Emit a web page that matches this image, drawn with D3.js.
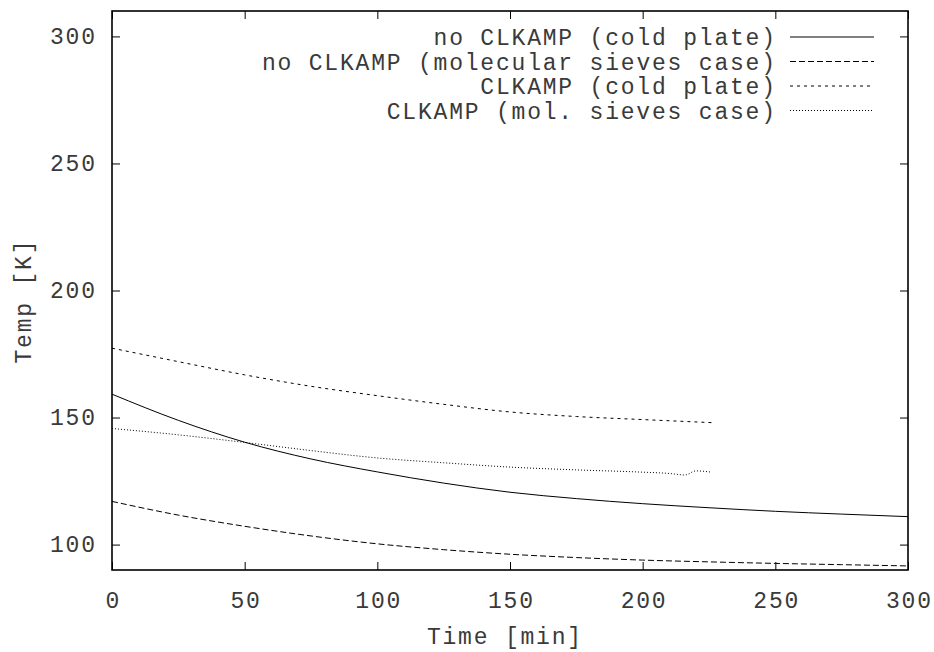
<!DOCTYPE html>
<html>
<head>
<meta charset="utf-8">
<script src="https://cdn.jsdelivr.net/npm/d3@7"></script>
<style>
html,body{margin:0;padding:0;background:#fff;}
svg text{font-family:"Liberation Mono","DejaVu Sans Mono",monospace;fill:#3a3a3a;letter-spacing:1.8px;}
</style>
</head>
<body>
<svg id="chart" width="934" height="652"></svg>
<script>
// ---- data ----
const seriesNames = [
  "no CLKAMP (cold plate)",
  "no CLKAMP (molecular sieves case)",
  "CLKAMP (cold plate)",
  "CLKAMP (mol. sieves case)"
];
const tNoClkCold = [0,25,50,75,100,125,150,175,200,225,250,275,300];
const vNoClkCold = [159.2,148.9,140.3,133.7,128.6,124.2,120.6,118.1,116.1,114.5,113.1,112.0,111.0];
const tNoClkSieve = [0,25,50,75,100,125,150,175,200,225,250,275,300];
const vNoClkSieve = [117.0,111.6,107.2,103.4,100.3,98.0,96.2,94.9,93.9,93.2,92.6,92.1,91.6];
const tClkCold = [0,25,50,75,100,125,150,175,200,226];
const vClkCold = [177.3,172.0,166.8,162.3,158.6,155.2,152.2,150.4,149.2,148.0];
const tClkSieve = [0,25,50,75,100,125,150,175,200,210,216,220,226];
const vClkSieve = [145.7,143.2,140.2,137.0,134.1,132.2,130.5,129.4,128.5,128.0,127.4,129.0,128.5];
const xTicks = [0,50,100,150,200,250,300];
const yTicks = [100,150,200,250,300];
const xLabel = "Time [min]";
const yLabel = "Temp [K]";

// ---- layout ----
const W = 934, H = 652;
const m = {left:112, right:26, top:11, bottom:82};
const iw = W - m.left - m.right, ih = H - m.top - m.bottom;
const svg = d3.select("#chart");
const g = svg.append("g").attr("transform", `translate(${m.left},${m.top})`);

const x = d3.scaleLinear().domain([0,300]).range([0, iw]);
const y = d3.scaleLinear().domain([90,310]).range([ih, 0]);

const fontSize = 23;
const ls = 1.8;
const tickLen = 8;

// axes (inward ticks, mirrored)
const axB = d3.axisBottom(x).tickValues(xTicks).tickSize(-tickLen).tickPadding(22).tickFormat(d3.format("d"));
const axT = d3.axisTop(x).tickValues(xTicks).tickSize(-tickLen).tickFormat("");
const axL = d3.axisLeft(y).tickValues(yTicks).tickSize(-tickLen).tickPadding(17 - ls).tickFormat(d3.format("d"));
const axR = d3.axisRight(y).tickValues(yTicks).tickSize(-tickLen).tickFormat("");

function styleAxis(sel){
  sel.select(".domain").remove();
  sel.selectAll(".tick line").attr("stroke","#000").attr("stroke-width",1);
  sel.selectAll(".tick text").style("font-size", fontSize+"px").attr("fill","#3a3a3a");
}
g.append("g").attr("transform",`translate(0,${ih})`).call(axB).call(styleAxis)
  .selectAll(".tick text").attr("dx", ls/2);
g.append("g").call(axT).call(styleAxis);
g.append("g").call(axL).call(styleAxis);
g.append("g").attr("transform",`translate(${iw},0)`).call(axR).call(styleAxis);

// frame
g.append("rect").attr("x",0).attr("y",0).attr("width",iw).attr("height",ih)
  .attr("fill","none").attr("stroke","#000").attr("stroke-width",1.6);

// series
const styles = ["none","6,3","3,4","1,2"];
const data = [
  d3.zip(tNoClkCold, vNoClkCold),
  d3.zip(tNoClkSieve, vNoClkSieve),
  d3.zip(tClkCold, vClkCold),
  d3.zip(tClkSieve, vClkSieve)
];
const line = d3.line().x(d=>x(d[0])).y(d=>y(d[1])).curve(d3.curveMonotoneX);
data.forEach((d,i)=>{
  g.append("path").datum(d).attr("d",line).attr("fill","none")
    .attr("stroke","#000").attr("stroke-width",1)
    .attr("stroke-dasharray", styles[i]);
});

// legend
const legTextX = 775 + ls - m.left, legLineX1 = 790 - m.left, legLineX2 = 874 - m.left;
const legY0 = 37 - m.top, legDy = 24.5;
seriesNames.forEach((n,i)=>{
  const yy = legY0 + i*legDy;
  g.append("text").attr("x",legTextX).attr("y",yy).attr("dy","0.35em")
    .attr("text-anchor","end").style("font-size",fontSize+"px").text(n);
  g.append("line").attr("x1",legLineX1).attr("x2",legLineX2).attr("y1",yy).attr("y2",yy)
    .attr("stroke","#000").attr("stroke-width",1).attr("stroke-dasharray",styles[i]);
});

// axis labels
svg.append("text").attr("x", 504 + ls/2).attr("y", 636).attr("dy","0.35em")
  .attr("text-anchor","middle").style("font-size",fontSize+"px").text(xLabel);
svg.append("text").attr("transform",`translate(23,${302 - ls/2}) rotate(-90)`)
  .attr("dy","0.35em").attr("text-anchor","middle").style("font-size",fontSize+"px").text(yLabel);
</script>
</body>
</html>
